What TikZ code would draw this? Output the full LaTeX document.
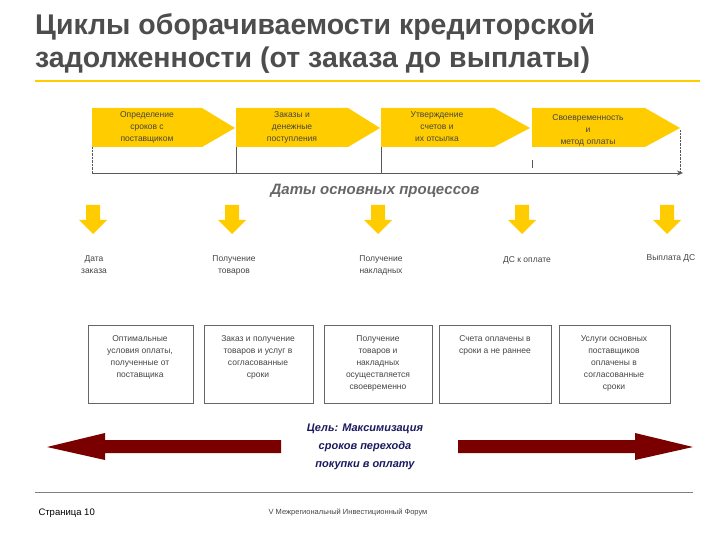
\documentclass[tikz,border=0pt]{standalone}
\usepackage{fontspec}
\setmainfont{Liberation Sans}
\usetikzlibrary{arrows.meta}
\definecolor{ylw}{HTML}{FFCC00}
\definecolor{ttl}{HTML}{4D4D4D}
\definecolor{txt}{HTML}{444444}
\definecolor{dred}{HTML}{7A0000}
\definecolor{navy}{HTML}{1A1A5E}
\begin{document}
\begin{tikzpicture}[x=1pt,y=-1pt,
  pent/.style={fill=ylw,draw=none},
  ptxt/.style={font=\fontsize{8.5}{12}\selectfont,text=txt,align=center},
  lbl/.style={font=\fontsize{8.5}{12}\selectfont,text=txt,align=center},
  box/.style={draw=gray!80!black,line width=0.6pt},
  yarr/.style={fill=ylw,draw=none},
  rarr/.style={fill=dred,draw=none}]
\useasboundingbox (0,0) rectangle (720,540);
% title
\node[anchor=north west,inner sep=0,align=left,text=ttl,font=\bfseries\fontsize{28.5}{33}\selectfont] (title) at (35,13) {Циклы оборачиваемости кредиторской\\задолженности (от заказа до выплаты)};
\draw[ylw,line width=1.5pt] (35,81) -- (700,81);
% pentagons
\foreach \a/\b/\c [count=\i] in {92/202/235,236/348/380,381/494/530,532/645/680}{
  \fill[pent] (\a,108) -- (\b,108) -- (\c,128) -- (\b,147) -- (\a,147) -- cycle;
}
\node[ptxt] (p1) at (147,127) {Определение\\сроков с\\поставщиком};
\node[ptxt] (p2) at (292,127) {Заказы и\\денежные\\поступления};
\node[ptxt] (p3) at (437,127) {Утверждение\\счетов и\\их отсылка};
\node[ptxt] (p4) at (588,130) {Своевременность\\и\\метод оплаты};
% timeline
\draw[gray!70!black,densely dotted] (92,147) -- (92,173);
\draw[gray!70!black,densely dotted] (680,130) -- (680,173);
\draw[gray!70!black,line width=0.8pt] (236,147) -- (236,173);
\draw[gray!70!black,line width=0.8pt] (381,147) -- (381,173);
\draw[gray!70!black,line width=0.8pt] (532,160) -- (532,168);
\draw[gray!70!black,line width=0.5pt,-{Stealth[length=6pt,width=5pt]}] (92,173) -- (683,173);
\node[font=\bfseries\itshape\fontsize{15}{18}\selectfont,text=gray!80!black] (dates) at (375,191) {Даты основных процессов};
% yellow arrows
\foreach \x in {93,232,378,522,667}{
  \fill[yarr] (\x-7,205) -- (\x+7,205) -- (\x+7,220) -- (\x+14,220) -- (\x,234) -- (\x-14,220) -- (\x-7,220) -- cycle;
}
\node[lbl] (l1) at (94,265) {Дата\\заказа};
\node[lbl] (l2) at (234,265) {Получение\\товаров};
\node[lbl] (l3) at (381,265) {Получение\\накладных};
\node[lbl] (l4) at (527,260) {ДС к оплате};
\node[lbl] (l5) at (671,258) {Выплата ДС};
% boxes
\foreach \a/\b in {88/193,204/313,324/432,439/551,559/670}{
  \draw[box] (\a,325) rectangle (\b,403);
}
\node[lbl,anchor=north] (b1) at (140,332) {Оптимальные\\условия оплаты,\\полученные от\\поставщика};
\node[lbl,anchor=north] (b2) at (258,332) {Заказ и получение\\товаров и услуг в\\согласованные\\сроки};
\node[lbl,anchor=north] (b3) at (378,332) {Получение\\товаров и\\накладных\\осуществляется\\своевременно};
\node[lbl,anchor=north] (b4) at (495,332) {Счета оплачены в\\сроки а не раннее};
\node[lbl,anchor=north] (b5) at (614,332) {Услуги основных\\поставщиков\\оплачены в\\согласованные\\сроки};
% red arrows
\fill[rarr] (281,440) -- (105,440) -- (105,433) -- (47,447) -- (105,460) -- (105,453) -- (281,453) -- cycle;
\fill[rarr] (458,440) -- (635,440) -- (635,433) -- (693,447) -- (635,460) -- (635,453) -- (458,453) -- cycle;
\node[font=\bfseries\itshape\fontsize{11}{18}\selectfont,text=navy,align=center] (goal) at (365,447) {Цель: Максимизация\\сроков перехода\\покупки в оплату};
% footer
\draw[gray,line width=0.6pt] (35,492) -- (693,492);
\node[anchor=west,font=\fontsize{9.5}{11}\selectfont] (page) at (35,513) {Страница 10};
\node[font=\fontsize{7.5}{9}\selectfont,text=txt] (forum) at (348,512) {V Межрегиональный Инвестиционный Форум};
\end{tikzpicture}
\end{document}
